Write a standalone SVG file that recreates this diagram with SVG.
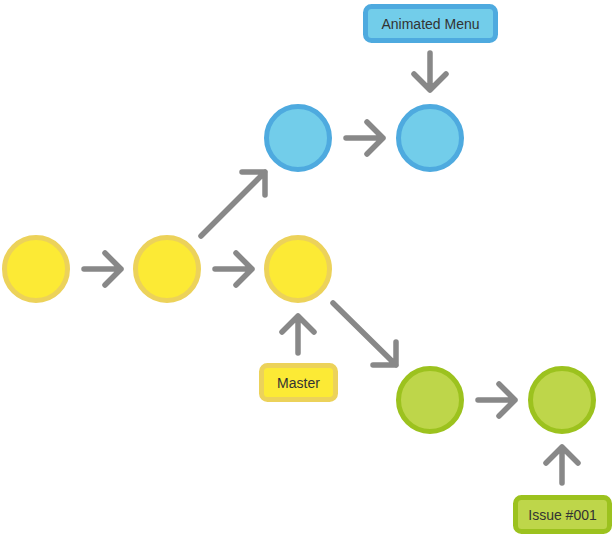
<svg xmlns="http://www.w3.org/2000/svg" width="614" height="538" viewBox="0 0 614 538">
<style>
.y{fill:#fcea35;stroke:#ecd25a;stroke-width:5}
.b{fill:#72cdea;stroke:#4eaadf;stroke-width:5}
.g{fill:#bed64a;stroke:#9cc21e;stroke-width:5}
.a{fill:none;stroke:#888;stroke-width:5.5;stroke-linecap:round;stroke-linejoin:round}
text{font-family:"Liberation Sans",Arial,sans-serif;font-size:14px;fill:#333;text-anchor:middle;dominant-baseline:central}
</style>
<rect width="614" height="538" fill="#fff"/>
<g id="connectors">
<path class="a" d="M84,269H121M105,253L121,269L105,285"/>
<path class="a" d="M215,269H252M236,253L252,269L236,285"/>
<path class="a" d="M346,138H383M367,122L383,138L367,154"/>
<path class="a" d="M478,400H515M499,384L515,400L499,416"/>
<path class="a" d="M201,236L265,172M242,172H265V195"/>
<path class="a" d="M333,303L396,365M396,342V365H373"/>
<path class="a" d="M430,53V90M414,74L430,90L446,74"/>
<path class="a" d="M298,353V316M282,332L298,316L314,332"/>
<path class="a" d="M562,483V447M546,463L562,447L578,463"/>
</g>
<g id="c1"><circle class="y" cx="36" cy="269" r="31.5"/></g>
<g id="c2"><circle class="y" cx="167" cy="269" r="31.5"/></g>
<g id="c3"><circle class="y" cx="298" cy="269" r="31.5"/></g>
<g id="c4"><circle class="b" cx="298" cy="138" r="31.5"/></g>
<g id="c5"><circle class="b" cx="430" cy="138" r="31.5"/></g>
<g id="c6"><circle class="g" cx="430" cy="400" r="31.5"/></g>
<g id="c7"><circle class="g" cx="562" cy="400" r="31.5"/></g>
<g id="label-animated"><rect class="b" x="365.5" y="6.5" width="130" height="34" rx="6"/><text x="430.5" y="24">Animated Menu</text></g>
<g id="label-master"><rect class="y" x="261.5" y="365.5" width="74" height="34" rx="6"/><text x="298.5" y="383">Master</text></g>
<g id="label-issue"><rect class="g" x="515.5" y="497.5" width="94" height="34" rx="6"/><text x="562.5" y="515">Issue #001</text></g>
</svg>
